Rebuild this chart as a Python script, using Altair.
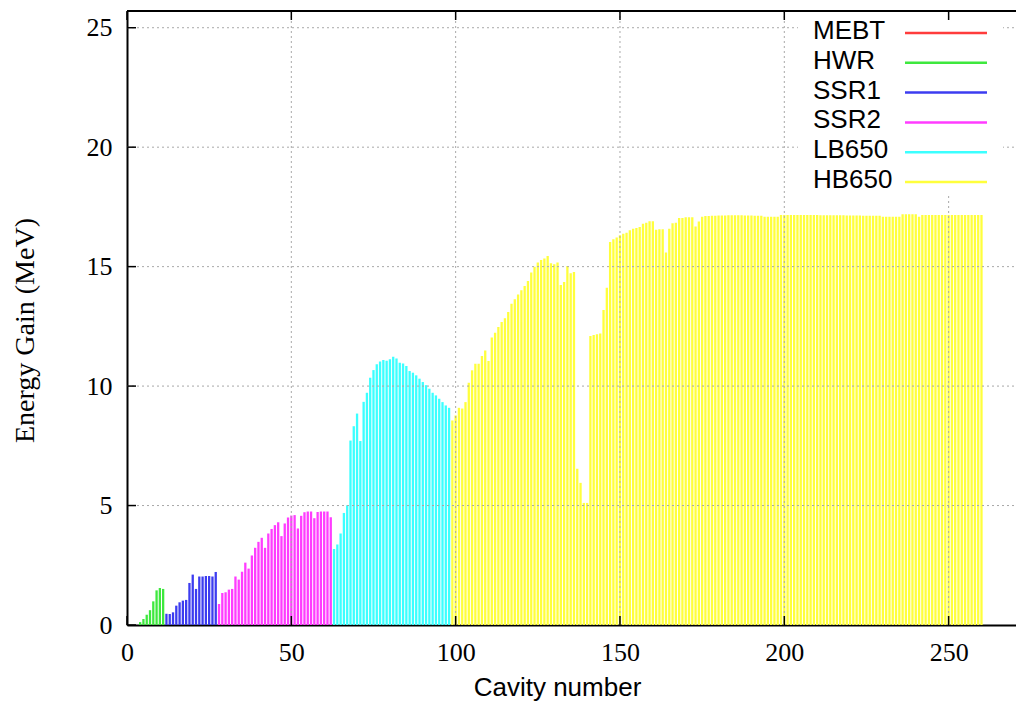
import altair as alt
import pandas as pd

# ---------------- data ----------------
series_names = ["MEBT", "HWR", "SSR1", "SSR2", "LB650", "HB650"]
series_colors = ["#ff3c3c", "#3ee83e", "#3c3cf0", "#ff3cff", "#3cffff", "#ffff3c"]
first_cavity = [1, 4, 12, 28, 63, 99]

mebt_gain = [0.0, 0.0, 0.0]
hwr_gain = [0.12, 0.25, 0.43, 0.62, 0.99, 1.45, 1.55, 1.51]
ssr1_gain = [0.47, 0.46, 0.53, 0.81, 0.95, 1.02, 1.05, 1.76,
             2.11, 1.51, 2.03, 2.03, 2.05, 2.05, 2.03, 2.22]
ssr2_gain = [0.88, 1.34, 1.37, 1.48, 1.51, 2.03, 1.90, 2.23, 2.61, 2.36,
             2.91, 3.23, 3.48, 3.65, 3.23, 3.83, 4.02, 4.18, 4.30, 3.72,
             4.25, 4.50, 4.58, 4.60, 4.04, 4.57, 4.72, 4.75, 4.75, 4.47,
             4.73, 4.75, 4.75, 4.75, 4.51]
lb650_gain = [3.18, 3.37, 3.83, 4.69, 5.01, 7.72, 8.32, 8.85, 7.70, 9.34,
              9.72, 10.35, 10.67, 10.91, 11.03, 11.09, 11.06, 11.12, 11.23, 11.15,
              10.98, 10.95, 10.84, 10.63, 10.56, 10.45, 10.31, 10.17, 10.04, 9.89,
              9.72, 9.61, 9.47, 9.33, 9.19, 9.09]
hb650_gain = [8.56, 8.77, 9.09, 9.06, 9.33, 10.14, 10.66, 10.94, 10.94, 11.26,
              11.49, 11.05, 12.03, 12.23, 12.47, 12.68, 12.84, 13.10, 13.45, 13.63,
              13.83, 14.01, 14.19, 14.40, 14.75, 14.99, 15.17, 15.28, 15.34, 15.45,
              15.14, 15.10, 15.17, 14.23, 14.36, 15.03, 14.72, 14.78, 6.54, 5.95,
              5.11, 5.11, 12.10, 12.14, 12.17, 12.20, 13.18, 14.12, 16.03, 16.15,
              16.22, 16.31, 16.38, 16.42, 16.52, 16.59, 16.62, 16.66, 16.80, 16.84,
              16.90, 16.90, 16.54, 16.56, 16.56, 15.59, 16.59, 16.82, 16.84, 17.04,
              17.04, 17.07, 17.07, 17.07, 16.68, 16.89, 17.09, 17.12, 17.12, 17.13,
              17.13, 17.14, 17.14, 17.14, 17.15, 17.15, 17.15, 17.15, 17.15, 17.14,
              17.14, 17.14, 17.13, 17.13, 17.13, 17.09, 17.09, 17.09, 17.09, 17.09,
              17.16, 17.16, 17.16, 17.16, 17.16, 17.16, 17.16, 17.16, 17.16, 17.16,
              17.16, 17.16, 17.15, 17.15, 17.15, 17.15, 17.15, 17.15, 17.15, 17.15,
              17.14, 17.14, 17.14, 17.14, 17.14, 17.13, 17.13, 17.13, 17.13, 17.13,
              17.13, 17.09, 17.09, 17.09, 17.09, 17.09, 17.09, 17.19, 17.19, 17.19,
              17.19, 17.19, 17.09, 17.16, 17.16, 17.16, 17.16, 17.16, 17.16, 17.16,
              17.16, 17.16, 17.16, 17.16, 17.16, 17.16, 17.16, 17.16, 17.16, 17.16,
              17.16, 17.16]

x_tick_values = [0, 50, 100, 150, 200, 250]
y_tick_values = [0, 5, 10, 15, 20, 25]
x_grid_values = [50, 100, 150, 200, 250]
y_grid_values = [5, 10, 15, 20, 25]

all_gains = [mebt_gain, hwr_gain, ssr1_gain, ssr2_gain, lb650_gain, hb650_gain]
rows = []
for name, start, gains in zip(series_names, first_cavity, all_gains):
    for i, g in enumerate(gains):
        rows.append({"cavity": start + i, "gain": g, "series": name})
df = pd.DataFrame(rows)

# ---------------- layout ----------------
W, H = 889, 614
x_scale = alt.Scale(domain=[0, 270.5], nice=False, zero=False)
y_scale = alt.Scale(domain=[0, 25.7], nice=False, zero=False)
color_scale = alt.Scale(domain=series_names, range=series_colors)

x_axis = alt.Axis(values=x_tick_values, title="Cavity number",
                  titleFont="Liberation Sans", titleFontSize=26,
                  labelPadding=14, labelFlush=False,
                  titleX=430, titleY=70, titleBaseline="alphabetic")

bars = alt.Chart(df).mark_rule(strokeWidth=2.3).encode(
    x=alt.X("cavity:Q", scale=x_scale, axis=x_axis),
    y=alt.Y("gain:Q", scale=y_scale,
            axis=alt.Axis(values=y_tick_values, title="Energy Gain (MeV)",
                          titleFont="Liberation Serif", titleFontSize=28,
                          labelPadding=15, labelFlush=False,
                          titleX=-88, titleY=319)),
    y2=alt.datum(0),
    color=alt.Color("series:N", scale=color_scale, legend=None),
)

grid_style = dict(color="#a8a8a8", strokeDash=[2, 3], strokeWidth=1)
vgrid = alt.Chart(pd.DataFrame({"cavity": x_grid_values})).mark_rule(**grid_style).encode(
    x=alt.X("cavity:Q", scale=x_scale, axis=x_axis), y=alt.value(0), y2=alt.value(H))
hgrid = alt.Chart(pd.DataFrame({"gain": y_grid_values})).mark_rule(**grid_style).encode(
    y=alt.Y("gain:Q", scale=y_scale), x=alt.value(0), x2=alt.value(W))

main = alt.layer(bars, vgrid, hgrid)

# legend (gnuplot style: label on the left, line sample on the right)
leg_df = pd.DataFrame({"series": series_names, "row": list(range(len(series_names)))})
leg_y = alt.Y("row:Q", scale=alt.Scale(domain=[0, 5], range=[22, 171], nice=False, zero=False),
              axis=None)
leg_bg = alt.Chart(pd.DataFrame({"series": ["bg"]})).mark_rect(color="white").encode(
    x=alt.value(671), x2=alt.value(876), y=alt.value(9), y2=alt.value(182))
leg_text = alt.Chart(leg_df).mark_text(
    align="left", baseline="middle", font="Liberation Sans", fontSize=26,
    color="black", dy=-2).encode(x=alt.value(686), y=leg_y, text="series:N")
leg_line = alt.Chart(leg_df).mark_rule(strokeWidth=2.5).encode(
    x=alt.value(778), x2=alt.value(860), y=leg_y,
    color=alt.Color("series:N", scale=color_scale, legend=None))
legend = alt.layer(leg_bg, leg_text, leg_line)

# inward ticks and top border
tick_style = dict(color="black", strokeWidth=1.5)
xt = pd.DataFrame({"cavity": x_tick_values})
yt = pd.DataFrame({"gain": y_tick_values})
bottom_ticks = alt.Chart(xt).mark_rule(**tick_style).encode(
    x=alt.X("cavity:Q", scale=x_scale, axis=x_axis), y=alt.value(H), y2=alt.value(H - 9))
top_ticks = alt.Chart(xt).mark_rule(**tick_style).encode(
    x=alt.X("cavity:Q", scale=x_scale, axis=x_axis), y=alt.value(0), y2=alt.value(9))
left_ticks = alt.Chart(yt).mark_rule(**tick_style).encode(
    y=alt.Y("gain:Q", scale=y_scale, axis=None), x=alt.value(0), x2=alt.value(9))
top_border = alt.Chart(pd.DataFrame({"b": [0]})).mark_rule(color="black", strokeWidth=2).encode(
    x=alt.value(0), x2=alt.value(W), y=alt.value(0))
ticks = alt.layer(bottom_ticks, top_ticks, left_ticks, top_border)

chart = alt.layer(main, legend, ticks).resolve_scale(y="independent").properties(
    width=W, height=H,
    autosize=alt.AutoSizeParams(type="none"),
    padding={"left": 127, "top": 11, "right": 0, "bottom": 79},
    background="white",
).configure_view(stroke=None).configure_axis(
    labelFont="Liberation Serif", labelFontSize=26, labelColor="black",
    domainColor="black", domainWidth=2, ticks=False, grid=False,
    titleFontWeight="normal", titleColor="black",
)

chart.save("out.html", embed_options={"renderer": "svg", "actions": False})
